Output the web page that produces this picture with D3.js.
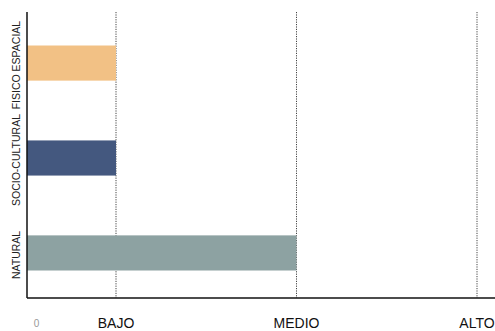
<!DOCTYPE html>
<html><head><meta charset="utf-8">
<script src="https://cdn.jsdelivr.net/npm/d3@7"></script>
<style>body{margin:0;background:#fff;}svg{display:block;font-family:"Liberation Sans",Arial,sans-serif;}</style>
</head><body>
<svg id="c" width="495" height="331"></svg>
<script>
const categories = ["FISICO ESPACIAL", "SOCIO-CULTURAL", "NATURAL"];
const values = [1, 1, 2];
const colors = ["#F2C185", "#44587F", "#8DA2A2"];
const tickValues = [1, 2, 3];
const tickLabels = ["BAJO", "MEDIO", "ALTO"];
const zeroLabel = "0";

(function () {
const svg = d3.select("#c");
const x0 = 27, axisY = 298, plotTop = 12;
const x = d3.scaleLinear().domain([1, 3]).range([116, 477]);
const y = d3.scaleBand().domain(categories).range([45.5, 270.5]).paddingInner(0.63).paddingOuter(0);

svg.append("g").selectAll("line").data(tickValues).join("line")
  .attr("x1", d => x(d)).attr("x2", d => x(d))
  .attr("y1", plotTop).attr("y2", axisY)
  .attr("stroke", "#444").attr("stroke-width", 1).attr("stroke-dasharray", "1.2,1.2");

svg.append("g").selectAll("rect").data(categories).join("rect")
  .attr("x", x0).attr("y", d => y(d))
  .attr("width", (d, i) => x(values[i]) - x0)
  .attr("height", y.bandwidth())
  .attr("fill", (d, i) => colors[i]);

svg.append("line").attr("x1", x0).attr("x2", x0).attr("y1", plotTop).attr("y2", axisY)
  .attr("stroke", "#111").attr("stroke-width", 1.5);
svg.append("line").attr("x1", x0).attr("x2", 495).attr("y1", axisY).attr("y2", axisY)
  .attr("stroke", "#111").attr("stroke-width", 1.5);

svg.append("g").selectAll("text").data(tickValues).join("text")
  .attr("x", d => x(d)).attr("y", 328)
  .attr("text-anchor", "middle").attr("font-size", 14).attr("fill", "#111")
  .text((d, i) => tickLabels[i]);
svg.append("text").attr("x", x(0.56)).attr("y", 327)
  .attr("text-anchor", "middle").attr("font-size", 10).attr("fill", "#999").text(zeroLabel);

svg.append("g").selectAll("text").data(categories).join("text")
  .attr("transform", d => `translate(20,${y(d) + y.bandwidth() / 2 + 2}) rotate(-90)`)
  .attr("text-anchor", "middle").attr("font-size", 10.5).attr("fill", "#222")
  .text(d => d);
})();
</script>
</body></html>
